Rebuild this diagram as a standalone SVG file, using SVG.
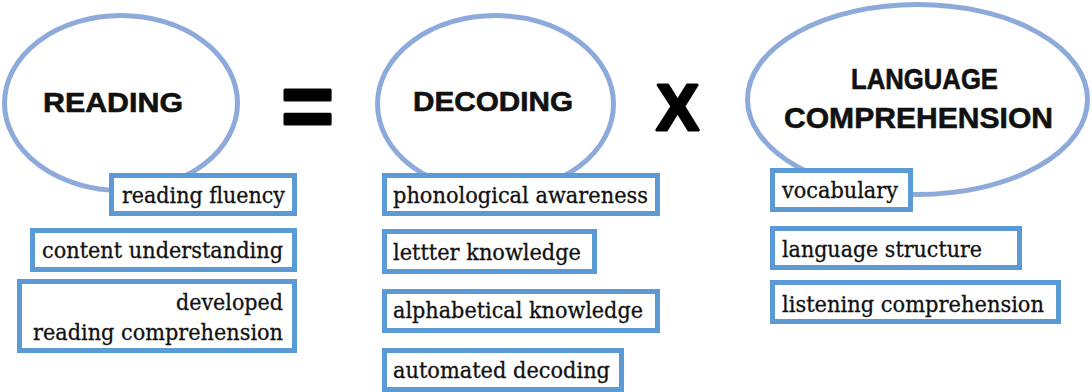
<svg xmlns="http://www.w3.org/2000/svg" width="1092" height="392" viewBox="0 0 1092 392">
<style>
.ell{fill:#ffffff;stroke:#8eaadb;stroke-width:5}
.box{fill:#ffffff;stroke:#5b9bd5;stroke-width:5}
.head{font-family:"Liberation Sans",Arial,sans-serif;font-weight:bold;fill:#111111;stroke:#111111;stroke-width:0.6}
.lbl{font-family:"DejaVu Serif","Liberation Serif",serif;font-size:22px;fill:#111111;stroke:#111111;stroke-width:0.3}
.op{font-family:"Liberation Sans",Arial,sans-serif;font-weight:bold;fill:#000000;stroke:#000000;stroke-width:3;stroke-linejoin:round}
</style>
<rect x="0" y="0" width="1092" height="392" fill="#ffffff"/>
<g id="connectors"></g>
<g id="reading">
<ellipse class="ell" cx="121" cy="103" rx="116.5" ry="87.5"/>
<text class="head" x="43" y="112" font-size="28" textLength="140" lengthAdjust="spacingAndGlyphs">READING</text>
</g>
<g id="equals">
<text class="op" x="307.5" y="137" font-size="90" text-anchor="middle">=</text>
</g>
<g id="decoding">
<ellipse class="ell" cx="495.5" cy="104" rx="118" ry="88.5"/>
<text class="head" x="413" y="111" font-size="28" textLength="160" lengthAdjust="spacingAndGlyphs">DECODING</text>
</g>
<g id="times">
<text class="op" x="677.5" y="129.5" font-size="64" text-anchor="middle">X</text>
</g>
<g id="language">
<ellipse class="ell" cx="917.5" cy="99.5" rx="170" ry="95"/>
<text class="head" x="851" y="89" font-size="30" textLength="147" lengthAdjust="spacingAndGlyphs">LANGUAGE</text>
<text class="head" x="784" y="128" font-size="30" textLength="269" lengthAdjust="spacingAndGlyphs">COMPREHENSION</text>
</g>
<g id="reading-fluency">
<rect class="box" x="111.5" y="175.5" width="183" height="38"/>
<text class="lbl" x="122" y="203" textLength="163" lengthAdjust="spacingAndGlyphs">reading fluency</text>
</g>
<g id="content-understanding">
<rect class="box" x="32.5" y="230.5" width="262" height="39"/>
<text class="lbl" x="42" y="258" textLength="241" lengthAdjust="spacingAndGlyphs">content understanding</text>
</g>
<g id="developed-reading-comprehension">
<rect class="box" x="19.5" y="281.5" width="275" height="69"/>
<text class="lbl" x="283" y="310" text-anchor="end" textLength="107" lengthAdjust="spacingAndGlyphs">developed</text>
<text class="lbl" x="283" y="340" text-anchor="end" textLength="250" lengthAdjust="spacingAndGlyphs">reading comprehension</text>
</g>
<g id="phonological-awareness">
<rect class="box" x="384.5" y="175.5" width="273" height="38"/>
<text class="lbl" x="393" y="203" textLength="255" lengthAdjust="spacingAndGlyphs">phonological awareness</text>
</g>
<g id="letter-knowledge">
<rect class="box" x="384.5" y="231.5" width="210" height="40"/>
<text class="lbl" x="393" y="260" textLength="188" lengthAdjust="spacingAndGlyphs">lettter knowledge</text>
</g>
<g id="alphabetical-knowledge">
<rect class="box" x="384.5" y="291.5" width="273" height="39"/>
<text class="lbl" x="393" y="318" textLength="250" lengthAdjust="spacingAndGlyphs">alphabetical knowledge</text>
</g>
<g id="automated-decoding">
<rect class="box" x="384.5" y="350.5" width="237" height="39"/>
<text class="lbl" x="393" y="378" textLength="217" lengthAdjust="spacingAndGlyphs">automated decoding</text>
</g>
<g id="vocabulary">
<rect class="box" x="772.5" y="170.5" width="138" height="39"/>
<text class="lbl" x="782" y="198" textLength="116" lengthAdjust="spacingAndGlyphs">vocabulary</text>
</g>
<g id="language-structure">
<rect class="box" x="772.5" y="228.5" width="247" height="39"/>
<text class="lbl" x="782" y="257" textLength="200" lengthAdjust="spacingAndGlyphs">language structure</text>
</g>
<g id="listening-comprehension">
<rect class="box" x="772.5" y="282.5" width="286" height="39"/>
<text class="lbl" x="782" y="312" textLength="262" lengthAdjust="spacingAndGlyphs">listening comprehension</text>
</g>
</svg>
